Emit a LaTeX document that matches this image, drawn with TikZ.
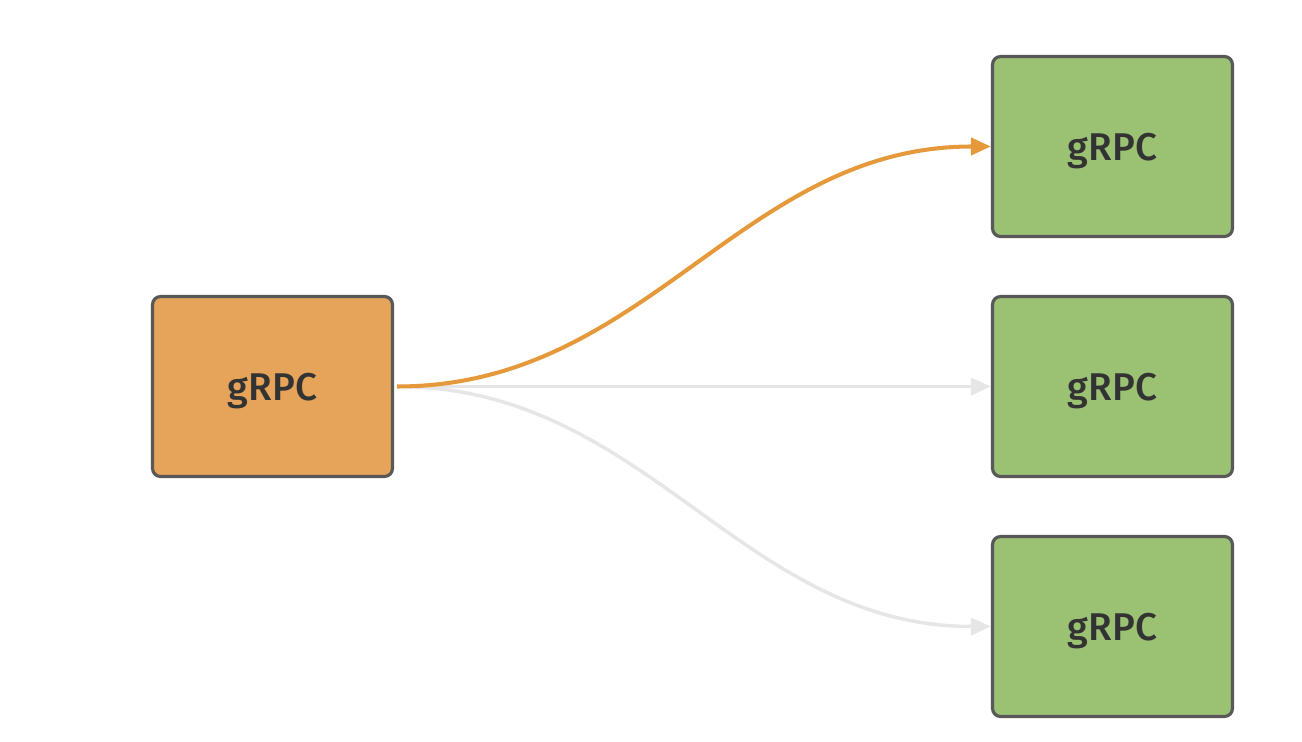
\documentclass[tikz,border=0pt]{standalone}
\usepackage{fontspec}
\setmainfont{Fira Sans}
\newfontfamily\svcfont{Fira Sans Medium}
\usetikzlibrary{arrows.meta}
\definecolor{boxorange}{HTML}{E5A45A}
\definecolor{boxgreen}{HTML}{9BC173}
\definecolor{boxline}{HTML}{585858}
\definecolor{callorange}{HTML}{E5993A}
\definecolor{idlegray}{HTML}{E6E6E6}
\begin{document}
\begin{tikzpicture}[x=0.02cm, y=-0.02cm]
\tikzset{ >={Triangle[length=0.4cm, width=0.34cm]},
  svc/.style={draw=boxline, line width=1.8pt, rounded corners=0.16cm,
    minimum width=4.8cm, minimum height=3.6cm, inner sep=0pt,
    text depth=0pt, text=black!80, font=\svcfont\fontsize{22}{26}\selectfont},
  idle/.style={idlegray, line width=2pt, ->},
  call/.style={callorange, line width=2.3pt, ->},
}

\useasboundingbox (0,0) rectangle (1302,742);

%\draw [lightgray, dashed](0,0) grid (1302,742);

\node [svc, fill=boxorange] (client) at (272.5,386.5) {gRPC};

\node [svc, fill=boxgreen] (srvA) at (1112.5,146.5) {gRPC};
\node [svc, fill=boxgreen] (srvB) at (1112.5,386.5) {gRPC};
\node [svc, fill=boxgreen] (srvC) at (1112.5,626.5) {gRPC};

\draw [idle] ([xshift=0.06cm]client.east) -- (srvB.west);
\draw [idle] ([xshift=0.06cm]client.east) to [out=0, in=180] (srvC.west);
\draw [call] ([xshift=0.06cm]client.east) to [out=0, in=180] (srvA.west);

\end{tikzpicture}
\end{document}
